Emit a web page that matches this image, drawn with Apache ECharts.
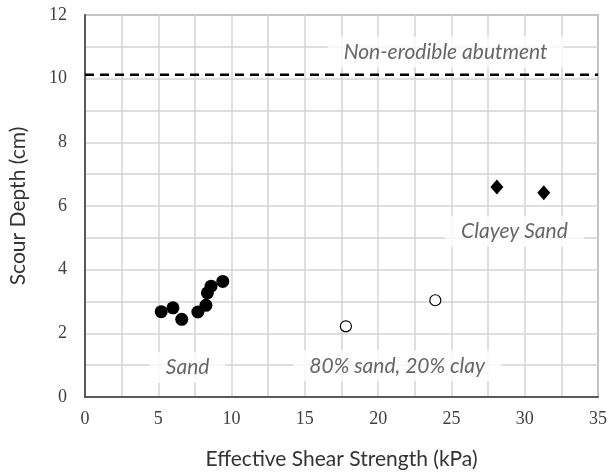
<!DOCTYPE html>
<html>
<head>
<meta charset="utf-8">
<script src="https://cdn.jsdelivr.net/npm/echarts@6/dist/echarts.min.js"></script>
<style>
  html, body { margin: 0; padding: 0; background: #fff; }
  #main { width: 610px; height: 475px; }
</style>
</head>
<body>
<div id="main"></div>
<script>
var chartDom = document.getElementById('main');
var myChart = echarts.init(chartDom);
var option;

// 砂土 (实心圆)
const sand = [
  [5.2, 2.68], [6.0, 2.80], [6.6, 2.44], [7.7, 2.67],
  [8.25, 2.88], [8.35, 3.27], [8.6, 3.48], [9.4, 3.63]
];
// 80% 砂 20% 粘土 (空心圆)
const sandClay = [[17.8, 2.22], [23.9, 3.04]];
// 粘质砂土 (菱形)
const clayeySand = [[28.1, 6.6], [31.3, 6.42]];
// 不可冲刷桥台线
const abutmentDepth = 10.12;

// 注释文字
const notes = [
  [24.6, 10.84, 'Non-erodible abutment'],
  [29.3, 5.2, 'Clayey Sand'],
  [7.0, 0.93, 'Sand'],
  [21.3, 0.98, '80% sand, 20% clay']
];

const tickFont = { fontFamily: 'Liberation Serif', fontSize: 18, color: '#404040' };

option = {
  animation: false,
  grid: {
    left: 85, right: 12, top: 15, bottom: 75,
    show: true, borderColor: '#6f6f6f', borderWidth: 1.5
  },
  xAxis: {
    type: 'value', min: 0, max: 35, interval: 5,
    name: 'Effective Shear Strength (kPa)',
    nameLocation: 'middle', nameGap: 52,
    nameTextStyle: { fontFamily: 'Lato', fontSize: 21, color: '#333' },
    axisLine: { lineStyle: { color: '#595959', width: 2 } },
    axisTick: { show: false },
    axisLabel: Object.assign({ margin: 13 }, tickFont),
    splitLine: { lineStyle: { color: '#d4d4d4', width: 1.5 } },
    minorTick: { show: false, splitNumber: 2 },
    minorSplitLine: { show: true, lineStyle: { color: '#d4d4d4', width: 1.5 } }
  },
  yAxis: {
    type: 'value', min: 0, max: 12, interval: 2,
    name: 'Scour Depth (cm)',
    nameLocation: 'middle', nameGap: 56,
    nameTextStyle: { fontFamily: 'Lato', fontSize: 21, color: '#333' },
    axisLine: { show: true, lineStyle: { color: '#595959', width: 2 } },
    axisTick: { show: false },
    axisLabel: Object.assign({ margin: 18 }, tickFont),
    splitLine: { lineStyle: { color: '#d4d4d4', width: 1.5 } },
    minorTick: { show: false, splitNumber: 2 },
    minorSplitLine: { show: true, lineStyle: { color: '#d4d4d4', width: 1.5 } }
  },
  series: [
    {
      type: 'scatter', name: 'notes', z: 3,
      data: notes, symbolSize: 0,
      encode: { x: 0, y: 1 },
      label: {
        show: true, position: 'inside',
        formatter: function (p) { return p.value[2]; },
        fontFamily: 'Lato', fontStyle: 'italic', fontSize: 21,
        color: '#404040', backgroundColor: '#fff',
        padding: [5, 16]
      },
      silent: true
    },
    {
      type: 'line', name: 'abutment', z: 2,
      data: [[0, abutmentDepth], [35, abutmentDepth]],
      showSymbol: false,
      lineStyle: { color: '#000', width: 2.5, type: [9, 6] },
      silent: true
    },
    {
      type: 'scatter', name: 'Sand', z: 4,
      data: sand, symbol: 'circle', symbolSize: 13,
      itemStyle: { color: '#000', opacity: 1 }
    },
    {
      type: 'scatter', name: '80% sand, 20% clay', z: 4,
      data: sandClay, symbol: 'circle', symbolSize: 11,
      itemStyle: { color: '#fff', borderColor: '#000', borderWidth: 1.2, opacity: 1 }
    },
    {
      type: 'scatter', name: 'Clayey Sand', z: 4,
      data: clayeySand, symbol: 'diamond', symbolSize: [13, 15],
      itemStyle: { color: '#000', opacity: 1 }
    }
  ]
};

option && myChart.setOption(option);
</script>
</body>
</html>
